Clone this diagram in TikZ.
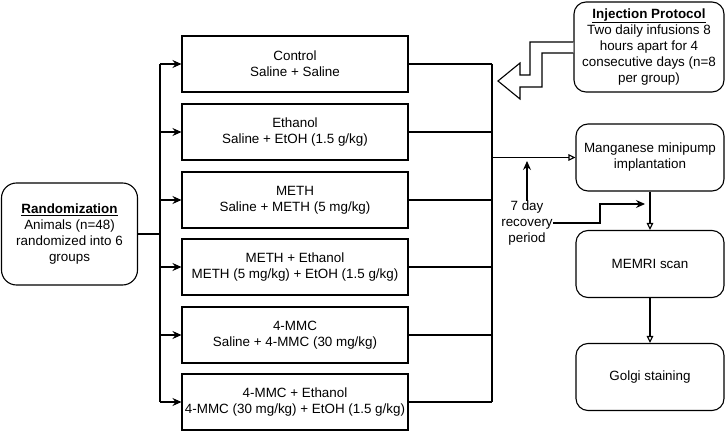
\documentclass[tikz,border=0pt]{standalone}
\usepackage{fontspec}
\setmainfont{Liberation Sans}
\usetikzlibrary{arrows.meta}
\begin{document}
\begin{tikzpicture}[x=1pt,y=-1pt,
  every node/.style={font=\fontsize{13.4}{16}\selectfont, align=center, inner sep=0pt},
  grp/.style={draw, line width=1.1pt, minimum width=226pt, minimum height=56pt},
  rbox/.style={draw, line width=1.1pt, rounded corners=12pt, minimum width=148pt, minimum height=67pt},
  conn/.style={line width=1.1pt},
  farr/.style={conn, -{Stealth[length=9pt,width=8pt,inset=3pt]}},
  oarr/.style={conn, -{Triangle[open,length=7pt,width=6.5pt]}}
]
\useasboundingbox (0,0) rectangle (726,433);

% Randomization
\node[draw, line width=1.1pt, rounded corners=15pt, minimum width=136pt, minimum height=102pt] (rand) at (69.5,234)
  {\underline{\textbf{Randomization}}\\Animals (n=48)\\randomized into 6\\groups};

% Groups
\node[grp] (g1) at (295,64) {Control\\Saline + Saline};
\node[grp] (g2) at (295,132) {Ethanol\\Saline + EtOH (1.5 g/kg)};
\node[grp] (g3) at (295,200) {METH\\Saline + METH (5 mg/kg)};
\node[grp] (g4) at (295,267) {METH + Ethanol\\METH (5 mg/kg) + EtOH (1.5 g/kg)};
\node[grp] (g5) at (295,335) {4-MMC\\Saline + 4-MMC (30 mg/kg)};
\node[grp] (g6) at (295,402) {4-MMC + Ethanol\\4-MMC (30 mg/kg) + EtOH (1.5 g/kg)};

% Right column
\node[rbox, minimum width=150pt, minimum height=90pt] (inj) at (649,47)
  {\underline{\textbf{Injection Protocol}}\\Two daily infusions 8\\hours apart for 4\\consecutive days (n=8\\per group)};
\node[rbox] (mang) at (650,157.5) {Manganese minipump\\implantation};
\node[rbox] (memri) at (650,264) {MEMRI scan};
\node[rbox] (golgi) at (650,377) {Golgi staining};

% Trunk and bus coordinates
\coordinate (tr) at (160,0);
\coordinate (bus) at (492,0);

\draw[conn] (rand.east) -- (tr |- rand.east);
\draw[conn] (tr |- g1.west) -- (tr |- g6.west);
\foreach \g in {g1,g2,g3,g4,g5,g6}{
  \draw[farr] (tr |- \g.west) -- (\g.west);
  \draw[conn] (\g.east) -- (bus |- \g.east);
}
\draw[conn] (bus |- g1.east) -- (bus |- g6.east);
\draw[oarr] (bus |- mang.west) -- (mang.west);

% recovery label
\node (rec) at (527,223) {7 day\\recovery\\period};
\coordinate (upend) at (527,161);
\draw[farr] (rec.north) -- (upend);
\coordinate (recend) at (645,204);
\draw[farr] (rec.east) -- (600,223) -- (600,204) -- (recend);

\draw[oarr] (mang.south) -- (memri.north);
\draw[oarr] (memri.south) -- (golgi.north);

% flex arrow from injection protocol
\draw[line width=1.1pt, fill=white, line join=miter]
  (inj.west |- 0,53) -- (542,53) -- (542,87) -- (520,87) -- (520,99) -- (498,81)
  -- (520,63) -- (520,75) -- (530,75) -- (530,42) -- (inj.west |- 0,42);
\end{tikzpicture}
\end{document}
